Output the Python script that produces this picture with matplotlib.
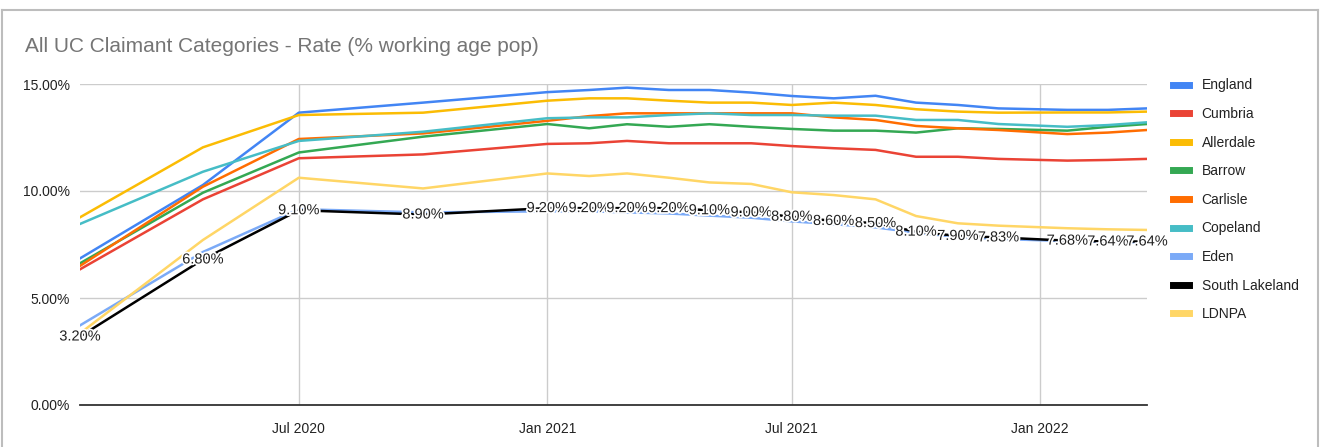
import pandas as pd
import matplotlib
matplotlib.use('Agg')
from matplotlib import pyplot as plt
import matplotlib.dates as mdates
from matplotlib.ticker import FuncFormatter, FixedLocator
from matplotlib.lines import Line2D
import matplotlib.patheffects as pe

plt.rcParams['font.family'] = ['Liberation Sans', 'DejaVu Sans']

dates = pd.to_datetime([
    '2020-01-21', '2020-04-21', '2020-07-01', '2020-10-01',
    '2021-01-01', '2021-02-01', '2021-03-01', '2021-04-01', '2021-05-01',
    '2021-06-01', '2021-07-01', '2021-08-01', '2021-09-01', '2021-10-01',
    '2021-11-01', '2021-12-01', '2022-01-21', '2022-02-20', '2022-03-21',
])

england = [6.85, 10.28, 13.66, 14.13, 14.62, 14.72, 14.83, 14.72, 14.72, 14.6,
           14.44, 14.33, 14.45, 14.13, 14.02, 13.86, 13.79, 13.79, 13.86]
cumbria = [6.34, 9.61, 11.53, 11.71, 12.2, 12.23, 12.34, 12.23, 12.23, 12.23,
           12.1, 12.0, 11.92, 11.6, 11.6, 11.5, 11.42, 11.45, 11.5]
allerdale = [8.77, 12.04, 13.55, 13.66, 14.22, 14.33, 14.33, 14.22, 14.13, 14.13,
             14.02, 14.13, 14.02, 13.82, 13.71, 13.66, 13.67, 13.67, 13.71]
barrow = [6.62, 9.92, 11.8, 12.54, 13.13, 12.93, 13.12, 13.0, 13.12, 13.0,
          12.9, 12.82, 12.82, 12.73, 12.93, 12.9, 12.82, 13.0, 13.13]
carlisle = [6.5, 10.2, 12.43, 12.69, 13.28, 13.5, 13.63, 13.63, 13.63, 13.63,
            13.63, 13.44, 13.32, 13.04, 12.93, 12.85, 12.66, 12.73, 12.85]
copeland = [8.46, 10.9, 12.34, 12.77, 13.4, 13.44, 13.44, 13.55, 13.63, 13.55,
            13.55, 13.52, 13.52, 13.32, 13.32, 13.13, 13.0, 13.08, 13.21]
eden = [3.72, 7.15, 9.15, 9.0, 9.05, 9.05, 9.0, 8.95, 8.85, 8.75,
        8.58, 8.45, 8.3, 8.05, 7.85, 7.76, 7.66, 7.62, 7.6]
south_lakeland = [3.20, 6.80, 9.10, 8.90, 9.20, 9.20, 9.20, 9.20, 9.10, 9.00,
                  8.80, 8.60, 8.50, 8.10, 7.90, 7.83, 7.68, 7.64, 7.64]
ldnpa = [3.35, 7.71, 10.62, 10.12, 10.82, 10.7, 10.82, 10.62, 10.4, 10.33,
         9.94, 9.81, 9.61, 8.83, 8.49, 8.38, 8.26, 8.21, 8.18]

names = ['England', 'Cumbria', 'Allerdale', 'Barrow', 'Carlisle', 'Copeland',
         'Eden', 'South Lakeland', 'LDNPA']
series = [england, cumbria, allerdale, barrow, carlisle, copeland,
          eden, south_lakeland, ldnpa]
colors = ['#4285F4', '#EA4335', '#FBBC04', '#34A853', '#FF6D01', '#46BDC6',
          '#7BAAF7', '#000000', '#FFD666']

fig = plt.figure(figsize=(13.23, 4.47), dpi=100)
ax = fig.add_axes([80 / 1323, 1 - 405 / 447, (1147 - 80) / 1323, (405 - 84) / 447])

for name, vals, c in zip(names, series, colors):
    ax.plot(dates, vals, color=c, lw=1.8, label=name, solid_joinstyle='round')

# data labels for South Lakeland
halo = [pe.withStroke(linewidth=2.5, foreground='white')]
for d, v in zip(dates, south_lakeland):
    ax.text(d, v, '%.2f%%' % v, ha='center', va='center', fontsize=10.5,
            color='#222222', zorder=10, path_effects=halo)

ax.set_xlim(dates[0], dates[-1])
ax.set_ylim(0, 15)
ax.yaxis.set_major_locator(FixedLocator([0, 5, 10, 15]))
ax.yaxis.set_major_formatter(FuncFormatter(lambda v, p: '%.2f%%' % v))
ax.xaxis.set_major_locator(mdates.MonthLocator(bymonth=[1, 7]))
ax.xaxis.set_major_formatter(mdates.DateFormatter('%b %Y'))

ax.grid(True, color='#cccccc', lw=1)
ax.set_axisbelow(True)
for s in ['top', 'right', 'left']:
    ax.spines[s].set_visible(False)
ax.spines['bottom'].set_color('#333333')
ax.spines['bottom'].set_linewidth(1.3)
ax.tick_params(length=0, labelsize=10, colors='#222222')
ax.tick_params(axis='x', pad=12)
ax.tick_params(axis='y', pad=7)

handles = [Line2D([0], [0], color=c, lw=5) for c in colors]
fig.legend(handles, names, loc='upper left', bbox_to_anchor=(1160 / 1323, 1 - 66 / 447),
           frameon=False, fontsize=10, handlelength=1.2, handletextpad=0.9,
           labelspacing=1.05, labelcolor='#222222')

fig.text(25 / 1323, 1 - 47 / 447, 'All UC Claimant Categories - Rate (% working age pop)',
         fontsize=15, color='#757575', va='center')

# chart border
bc = '#bdbdbd'
top = 1 - 10 / 447
fig.add_artist(Line2D([2 / 1323, 2 / 1323], [0, top], color=bc, lw=1.5))
fig.add_artist(Line2D([1318 / 1323, 1318 / 1323], [0, top], color=bc, lw=1.5))
fig.add_artist(Line2D([2 / 1323, 1318 / 1323], [top, top], color=bc, lw=1.5))

fig.savefig('out.png', dpi=100)
